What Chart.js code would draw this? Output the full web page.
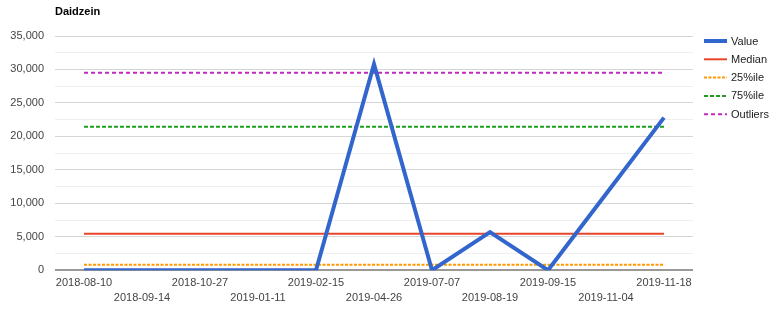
<!DOCTYPE html>
<html>
<head>
<meta charset="utf-8">
<script src="https://cdn.jsdelivr.net/npm/chart.js@4"></script>
<style>
  html, body { margin: 0; padding: 0; background: #fff; }
  #wrap { width: 775px; height: 313px; position: relative; }
</style>
</head>
<body>
<div id="wrap"><canvas id="c"></canvas></div>
<script>
const chartTitle = 'Daidzein';
const categories = ['2018-08-10','2018-09-14','2018-10-27','2019-01-11','2019-02-15','2019-04-26','2019-07-07','2019-08-19','2019-09-15','2019-11-04','2019-11-18'];
const values = [0, 0, 0, 0, 0, 30800, 0, 5700, 0, 11400, 22800];
const medianValue = 5450;
const p25Value = 800;
const p75Value = 21450;
const outlierValue = 29500;
const yTicks = [0, 5000, 10000, 15000, 20000, 25000, 30000, 35000];

const FONT = '"Liberation Sans", Arial, sans-serif';

const constLine = v => categories.map(() => v);

const datasets = [
  { label: 'Value', data: values, borderColor: '#3366CC', borderWidth: 4, borderDash: [] },
  { label: 'Median', data: constLine(medianValue), borderColor: '#E8462A', borderWidth: 2, borderDash: [] },
  { label: '25%ile', data: constLine(p25Value), borderColor: '#FF9900', borderWidth: 2, borderDash: [3, 1.5] },
  { label: '75%ile', data: constLine(p75Value), borderColor: '#1E9E1E', borderWidth: 2, borderDash: [4, 2] },
  { label: 'Outliers', data: constLine(outlierValue), borderColor: '#C02AC0', borderWidth: 2, borderDash: [4, 3] }
].map(d => Object.assign(d, { pointRadius: 0, pointHoverRadius: 0, fill: false, tension: 0, borderCapStyle: 'butt', borderJoinStyle: 'miter' }));

const titleAndLegend = {
  id: 'titleAndLegend',
  afterDraw(chart) {
    const ctx = chart.ctx;
    const area = chart.chartArea;
    ctx.save();
    ctx.font = 'bold 11px ' + FONT;
    ctx.fillStyle = '#000';
    ctx.textBaseline = 'middle';
    ctx.textAlign = 'left';
    ctx.fillText(chartTitle, area.left, 12);
    const x0 = area.right + 11;
    let y = area.top + 5;
    ctx.font = '11px ' + FONT;
    chart.data.datasets.forEach(ds => {
      ctx.beginPath();
      ctx.strokeStyle = ds.borderColor;
      ctx.lineWidth = ds.borderWidth;
      ctx.setLineDash(ds.borderDash || []);
      ctx.moveTo(x0, y);
      ctx.lineTo(x0 + 23, y);
      ctx.stroke();
      ctx.setLineDash([]);
      ctx.fillStyle = '#222';
      ctx.fillText(ds.label, x0 + 27, y + 0.5);
      y += 18.3;
    });
    ctx.restore();
  }
};

new Chart(document.getElementById('c'), {
  type: 'line',
  data: { labels: categories, datasets: datasets },
  plugins: [titleAndLegend],
  options: {
    responsive: true,
    maintainAspectRatio: false,
    animation: false,
    events: [],
    layout: { padding: { left: 0, right: 82, top: 36, bottom: 2 } },
    plugins: { legend: { display: false }, title: { display: false }, tooltip: { enabled: false } },
    scales: {
      x: {
        type: 'category',
        offset: true,
        grid: { display: false, drawTicks: false },
        border: { display: false },
        ticks: {
          autoSkip: false,
          maxRotation: 0,
          minRotation: 0,
          padding: 5,
          color: '#444',
          font: { family: FONT, size: 11, lineHeight: 1.4 },
          callback: function(value, index) {
            const lbl = this.getLabelForValue(value);
            return index % 2 === 0 ? [lbl] : ['', lbl];
          }
        }
      },
      y: {
        min: 0,
        max: 35000,
        afterFit: s => { s.width = 55; },
        grid: {
          drawTicks: false,
          color: ctx => (ctx.tick && ctx.tick.value === 0) ? '#999' : (ctx.tick && ctx.tick.value % 5000 === 0 ? '#d6d6d6' : '#efefef'),
          lineWidth: ctx => (ctx.tick && ctx.tick.value === 0) ? 2 : 1
        },
        border: { display: false },
        ticks: {
          stepSize: 2500,
          padding: 11,
          color: '#444',
          font: { family: FONT, size: 11 },
          callback: v => yTicks.includes(v) ? v.toLocaleString('en-US') : ''
        }
      }
    }
  }
});
</script>
</body>
</html>
